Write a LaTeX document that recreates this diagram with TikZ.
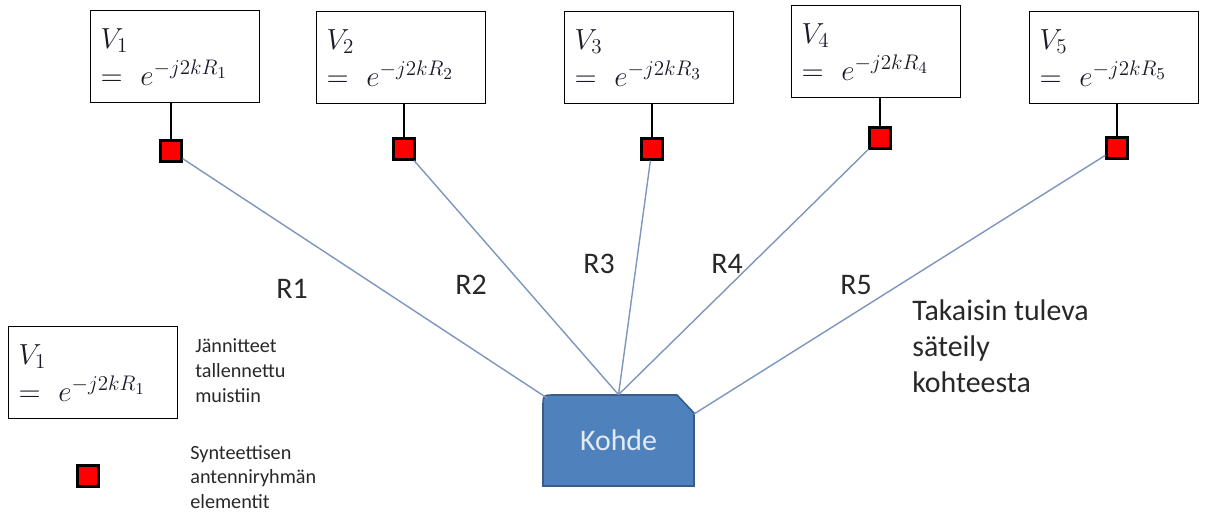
\RequirePackage{fix-cm}
\documentclass[tikz,border=0pt]{standalone}
\usepackage{fontspec}
\setmainfont{Carlito}
\usetikzlibrary{calc}
\DeclareMathSizes{16.5}{16.5}{12}{9.5}
\definecolor{raycol}{RGB}{125,150,190}
\definecolor{kfill}{RGB}{79,129,189}
\definecolor{kdraw}{RGB}{56,93,138}
\definecolor{ktext}{RGB}{225,235,245}
\definecolor{txt}{RGB}{40,40,40}
\definecolor{mth}{RGB}{25,25,40}
\begin{document}
\begin{tikzpicture}[x=0.02cm,y=-0.02cm,
  vbox/.style={draw=black, line width=0.8pt, minimum width=3.38cm, minimum height=1.84cm,
    text width=2.98cm, align=left, inner xsep=0.2cm, anchor=north west, text=mth,
    font=\fontsize{16.5}{21}\selectfont},
  elem/.style={draw=black, line width=1.2pt, fill=red, minimum size=0.42cm, inner sep=0pt},
  ray/.style={draw=raycol, line width=0.8pt},
  feed/.style={draw=black, line width=0.8pt},
  rlab/.style={font=\fontsize{17}{20}\selectfont, text=txt},
  note/.style={anchor=north west, align=left, inner sep=0pt, text=txt},
]
\useasboundingbox (0,0) rectangle (1205,513);

% voltage boxes
\node[vbox] (box1) at (90,10)   {$V_1$\\$=\ e^{-j2kR_1}$};
\node[vbox] (box2) at (316,11)  {$V_2$\\$=\ e^{-j2kR_2}$};
\node[vbox] (box3) at (564,11)  {$V_3$\\$=\ e^{-j2kR_3}$};
\node[vbox] (box4) at (791,5)   {$V_4$\\$=\ e^{-j2kR_4}$};
\node[vbox] (box5) at (1029,11) {$V_5$\\$=\ e^{-j2kR_5}$};

% antenna elements
\node[elem] (sq1) at (171,151) {};
\node[elem] (sq2) at (404,149) {};
\node[elem] (sq3) at (652,149) {};
\node[elem] (sq4) at (880,138) {};
\node[elem] (sq5) at (1117,148) {};

\foreach \i in {1,...,5}{
  \draw[feed] (sq\i.north) -- (sq\i.north |- box\i.south);
}

% target
\node[minimum width=3.02cm, minimum height=1.82cm, inner sep=0pt] (kohde) at (618.5,440.5) {};
\draw[fill=kfill, draw=kdraw, line width=0.9pt]
  (543,486) -- (543,407) .. controls (543,395) .. (555,395) -- (677,395) -- (694,413) -- (694,486) -- cycle;
\node[font=\fontsize{17}{20}\selectfont, text=ktext] (ktxt) at (kohde.center) {Kohde};
\coordinate (k1) at (547,398);
\coordinate (k5) at (694,414);

% rays
\draw[ray] (sq1) -- (k1);
\draw[ray] (sq2) -- (kohde.north);
\draw[ray] (sq3) -- (kohde.north);
\draw[ray] (sq4) -- (kohde.north);
\draw[ray] (sq5) -- (k5);

% range labels
\node[rlab] (r1) at (292,289) {R1};
\node[rlab] (r2) at (471,285) {R2};
\node[rlab] (r3) at (599,264) {R3};
\node[rlab] (r4) at (727,264) {R4};
\node[rlab] (r5) at (856,285) {R5};

\node[note, font=\fontsize{17}{20.5}\selectfont] (back) at (912,299) {Takaisin tuleva\\säteily\\kohteesta};

% legend
\node[vbox] (lbox) at (8,326) {$V_1$\\$=\ e^{-j2kR_1}$};
\node[note, font=\fontsize{11.5}{14.3}\selectfont] (ltxt1) at (195,338) {Jännitteet\\tallennettu\\muistiin};
\node[elem] (lsq) at (88,476) {};
\node[note, font=\fontsize{11.5}{14}\selectfont] (ltxt2) at (190,445) {Synteettisen\\antenniryhmän\\elementit};
\end{tikzpicture}
\end{document}
